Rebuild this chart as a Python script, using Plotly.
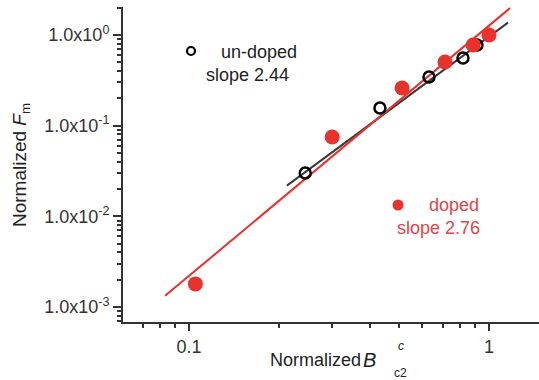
import numpy as np
import plotly.graph_objects as go

# ---- data ----
undoped_x = [0.244, 0.433, 0.631, 0.819, 0.912]
undoped_y = [0.0301, 0.157, 0.344, 0.557, 0.776]
doped_x = [0.105, 0.30, 0.513, 0.713, 0.885, 1.0]
doped_y = [0.0018, 0.075, 0.26, 0.504, 0.776, 1.0]

# power-law fits y = A * x**slope over a drawn x-range
undoped_slope = 2.44
undoped_pref = 0.96
undoped_fit_x = [0.212, 1.157]
doped_slope = 2.76
doped_pref = 1.27
doped_fit_x = [0.0832, 1.175]

y_tickvals = [1e-3, 1e-2, 1e-1, 1e0]
y_ticktext = ["1.0x10<sup>-3</sup>", "1.0x10<sup>-2</sup>", "1.0x10<sup>-1</sup>", "1.0x10<sup>0</sup>"]
x_tickvals = [0.1, 1]
x_ticktext = ["0.1", "1"]

W, H = 539, 380
L, R, T, B = 123, 0, 7, 58
PW, PH = W - L - R, H - T - B


def px(xp):
    return (xp - L) / PW


def py(yp):
    return (H - B - yp) / PH


RED = "#e8322b"
RED_TXT = "#e04545"
DARK = "#333333"
FONT = "Liberation Sans, Arial, sans-serif"

fig = go.Figure()

ux = np.geomspace(undoped_fit_x[0], undoped_fit_x[1], 50)
fig.add_trace(go.Scatter(x=ux, y=undoped_pref * ux ** undoped_slope, mode="lines",
                         line=dict(color="#3a3a3a", width=2), showlegend=False))
dx = np.geomspace(doped_fit_x[0], doped_fit_x[1], 50)
fig.add_trace(go.Scatter(x=dx, y=doped_pref * dx ** doped_slope, mode="lines",
                         line=dict(color=RED, width=2), showlegend=False))
fig.add_trace(go.Scatter(x=undoped_x, y=undoped_y, mode="markers",
                         marker=dict(symbol="circle-open", size=11, color="black",
                                     line=dict(width=2.5, color="black")),
                         showlegend=False))
fig.add_trace(go.Scatter(x=doped_x, y=doped_y, mode="markers",
                         marker=dict(symbol="circle", size=15, color=RED, line=dict(width=0)),
                         showlegend=False))

minor_y = [m * 10.0 ** e for e in range(-4, 1) for m in range(2, 10)]
minor_y = [v for v in minor_y if 7e-4 <= v <= 2.0]
minor_x = [m * 10.0 ** e for e in (-2, -1) for m in range(2, 10)]
minor_x = [v for v in minor_x if 0.061 <= v <= 1.46]

fig.update_xaxes(type="log", range=[-1.22, 0.1667], showline=True, linecolor=DARK, linewidth=2,
                 ticks="outside", ticklen=7, tickwidth=2, tickcolor=DARK,
                 tickvals=x_tickvals, ticktext=x_ticktext, showgrid=False, zeroline=False,
                 tickfont=dict(family=FONT, size=18, color=DARK),
                 minor=dict(tickvals=minor_x, ticks="outside", ticklen=4, tickwidth=1.5,
                            tickcolor=DARK, showgrid=False))
fig.update_yaxes(type="log", range=[-3.165, 0.309], showline=True, linecolor=DARK, linewidth=2,
                 ticks="outside", ticklen=8, tickwidth=2, tickcolor=DARK,
                 tickvals=y_tickvals, ticktext=y_ticktext, showgrid=False, zeroline=False,
                 tickfont=dict(family=FONT, size=18, color=DARK),
                 minor=dict(tickvals=minor_y, ticks="outside", ticklen=4, tickwidth=1.5,
                            tickcolor=DARK, showgrid=False))

ann = []
# axis titles
ann.append(dict(x=px(268), y=py(360), xref="paper", yref="paper", xanchor="left", yanchor="middle",
                text="Normalized", showarrow=False,
                font=dict(family=FONT, size=18, color="#222")))
ann.append(dict(x=px(361), y=py(360), xref="paper", yref="paper", xanchor="left", yanchor="middle",
                text="<i>B</i>", showarrow=False,
                font=dict(family=FONT, size=20, color="#222")))
ann.append(dict(x=px(396), y=py(346), xref="paper", yref="paper", xanchor="left", yanchor="middle",
                text="<i>c</i>", showarrow=False, font=dict(family=FONT, size=12, color="#222")))
ann.append(dict(x=px(392), y=py(373), xref="paper", yref="paper", xanchor="left", yanchor="middle",
                text="c2", showarrow=False, font=dict(family=FONT, size=12, color="#222")))
ann.append(dict(x=px(21), y=py(165), xref="paper", yref="paper", xanchor="center", yanchor="middle",
                text="Normalized <i>F</i><sub>m</sub>", textangle=-90, showarrow=False,
                font=dict(family=FONT, size=19, color="#222")))
# in-plot labels
ann.append(dict(x=px(219), y=py(52), xref="paper", yref="paper", xanchor="left", yanchor="middle",
                text="un-doped", showarrow=False, font=dict(family=FONT, size=18, color="#222")))
ann.append(dict(x=px(204), y=py(75), xref="paper", yref="paper", xanchor="left", yanchor="middle",
                text="slope 2.44", showarrow=False, font=dict(family=FONT, size=18, color="#222")))
ann.append(dict(x=px(427), y=py(205), xref="paper", yref="paper", xanchor="left", yanchor="middle",
                text="doped", showarrow=False, font=dict(family=FONT, size=18, color=RED_TXT)))
ann.append(dict(x=px(395), y=py(228), xref="paper", yref="paper", xanchor="left", yanchor="middle",
                text="slope 2.76", showarrow=False, font=dict(family=FONT, size=18, color=RED_TXT)))

shapes = [
    dict(type="circle", xref="paper", yref="paper", xsizemode="pixel", ysizemode="pixel",
         xanchor=px(191), yanchor=py(51), x0=-4, x1=4, y0=-4, y1=4,
         line=dict(color="black", width=2.2), fillcolor="rgba(0,0,0,0)"),
    dict(type="circle", xref="paper", yref="paper", xsizemode="pixel", ysizemode="pixel",
         xanchor=px(398), yanchor=py(205), x0=-5.5, x1=5.5, y0=-5.5, y1=5.5,
         line=dict(width=0), fillcolor=RED),
]

fig.update_layout(width=W, height=H, margin=dict(l=L, r=R, t=T, b=B),
                  paper_bgcolor="white", plot_bgcolor="white",
                  annotations=ann, shapes=shapes, showlegend=False)

fig.write_html("out.html")
